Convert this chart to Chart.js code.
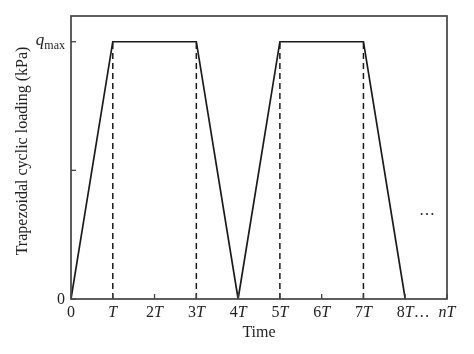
<!DOCTYPE html>
<html><head><meta charset="utf-8">
<script src="https://cdn.jsdelivr.net/npm/chart.js@4/dist/chart.umd.min.js"></script>
<style>html,body{margin:0;padding:0;background:#fff}#wrap{width:474px;height:354px}</style>
</head><body><div id="wrap"><canvas id="c" width="474" height="354"></canvas></div>
<script>
// Data (time in units of T, load as fraction of q_max)
const loadTimes = [0, 1, 3, 4, 5, 7, 8];
const loadValues = [0, 1, 1, 0, 1, 1, 0];
const dashTimes = [1, 3, 5, 7];
const xTickValues = [0, 1, 2, 3, 4, 5, 6, 7, 8, 9];
const xTickNums = ['0', '', '2', '3', '4', '5', '6', '7', '8', 'n'];
const xTickSuffix = ['', 'T', 'T', 'T', 'T', 'T', 'T', 'T', 'T…', 'T'];
const yTickValues = [0, 0.5, 1];
const xTitle = 'Time';
const yTitle = 'Trapezoidal cyclic loading (kPa)';

const SERIF = '"Liberation Serif", "DejaVu Serif", serif';
const INK = '#222';

const datasets = [{
  data: loadTimes.map((t, i) => ({x: t, y: loadValues[i]})),
  borderColor: '#1a1a1a', borderWidth: 1.7, pointRadius: 0, tension: 0, fill: false
}];
dashTimes.forEach(t => datasets.push({
  data: [{x: t, y: 0}, {x: t, y: 1}],
  borderColor: '#1a1a1a', borderWidth: 1.5, borderDash: [6, 4], pointRadius: 0, fill: false
}));

const decor = {
  id: 'decor',
  afterDraw(chart) {
    const ctx = chart.ctx, a = chart.chartArea;
    const xs = chart.scales.x, ys = chart.scales.y;
    ctx.save();
    // frame
    ctx.strokeStyle = '#444'; ctx.lineWidth = 1.7;
    ctx.strokeRect(a.left, a.top, a.right - a.left, a.bottom - a.top);
    // inward ticks
    ctx.lineWidth = 1.3;
    xTickValues.forEach(v => {
      const px = xs.getPixelForValue(v);
      ctx.beginPath(); ctx.moveTo(px, a.bottom); ctx.lineTo(px, a.bottom - 5); ctx.stroke();
    });
    yTickValues.forEach(v => {
      const py = ys.getPixelForValue(v);
      ctx.beginPath(); ctx.moveTo(a.left, py); ctx.lineTo(a.left + 5, py); ctx.stroke();
    });
    // x tick labels (number upright, T italic)
    ctx.fillStyle = INK; ctx.textBaseline = 'alphabetic';
    const ly = a.bottom + 18;
    xTickValues.forEach((v, i) => {
      const px = xs.getPixelForValue(v);
      const num = xTickNums[i], suf = xTickSuffix[i];
      const numFont = (num === 'n' ? 'italic ' : '') + '16px ' + SERIF;
      const sufFont = 'italic 16px ' + SERIF;
      ctx.font = numFont; const w1 = ctx.measureText(num).width;
      ctx.font = sufFont;
      const core = suf.replace('…', '');
      const w2 = ctx.measureText(core).width;
      let x0 = px - (w1 + w2) / 2;
      ctx.font = numFont; ctx.textAlign = 'left'; ctx.fillText(num, x0, ly);
      ctx.font = sufFont; ctx.fillText(core, x0 + w1, ly);
      if (suf.indexOf('…') >= 0) {
        ctx.font = '16px ' + SERIF;
        ctx.fillText('…', x0 + w1 + w2, ly);
      }
    });
    // y tick labels
    ctx.textAlign = 'right';
    ctx.font = '16px ' + SERIF;
    ctx.fillText('0', a.left - 6, ys.getPixelForValue(0) + 5);
    const qy = ys.getPixelForValue(1) + 3;
    ctx.font = '12px ' + SERIF;
    const wm = ctx.measureText('max').width;
    ctx.fillText('max', a.left - 6, qy + 4);
    ctx.font = 'italic 17px ' + SERIF;
    ctx.fillText('q', a.left - 6 - wm, qy);
    // ellipsis
    ctx.textAlign = 'center'; ctx.font = '16px ' + SERIF;
    ctx.fillText('…', xs.getPixelForValue(8.52), ys.getPixelForValue(0.34) + 3);
    // axis titles
    ctx.font = '16px ' + SERIF;
    ctx.fillText(xTitle, (a.left + a.right) / 2, a.bottom + 38);
    ctx.translate(27, 151);
    ctx.rotate(-Math.PI / 2);
    ctx.fillText(yTitle, 0, 0);
    ctx.restore();
  }
};

new Chart(document.getElementById('c'), {
  type: 'line',
  data: {datasets},
  options: {
    responsive: false, animation: false, devicePixelRatio: 1,
    layout: {padding: {left: 71, right: 27, top: 16, bottom: 55}},
    plugins: {legend: {display: false}, tooltip: {enabled: false}},
    scales: {
      x: {type: 'linear', min: 0, max: 9, display: false},
      y: {type: 'linear', min: 0, max: 1.1, display: false}
    }
  },
  plugins: [decor]
});
</script></body></html>
